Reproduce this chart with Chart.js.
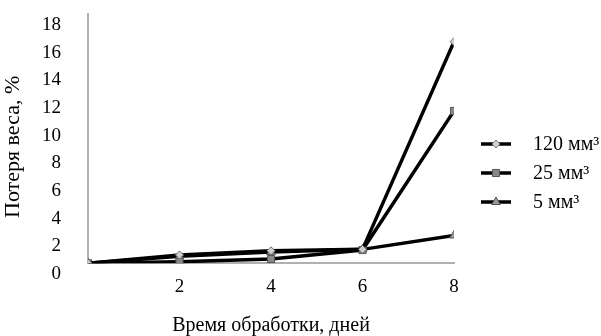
<!DOCTYPE html>
<html>
<head>
<meta charset="utf-8">
<script src="https://cdn.jsdelivr.net/npm/chart.js@4.4.1/dist/chart.umd.min.js"></script>
<style>
  html, body { margin: 0; padding: 0; background: #fff; }
  #wrap { width: 601px; height: 336px; }
</style>
</head>
<body>
<div id="wrap"><canvas id="weight-chart"></canvas></div>
<script>
// chart data - weight loss vs processing time
const days = [0, 2, 4, 6, 8];
const seriesNames = ['120 мм³', '25 мм³', '5 мм³'];
const loss120 = [0, 0.6, 0.9, 1.0, 16.0];
const loss25 = [0, 0.1, 0.3, 0.95, 11.0];
const loss5 = [0, 0.5, 0.8, 1.0, 2.0];
const yTicks = [0, 2, 4, 6, 8, 10, 12, 14, 16, 18];
const xTicks = [2, 4, 6, 8];

const serif = "'Liberation Serif', 'DejaVu Serif', serif";

function pts(vals) {
    return vals.map((v, i) => ({ x: days[i], y: v }));
}

// small legend drawn to the right, line + marker like the original
const sideLegend = {
    id: 'sideLegend',
    afterDraw(chart) {
        const ctx = chart.ctx;
        const x0 = 481, x1 = 511, tx = 533;
        ctx.save();
        chart.data.datasets.forEach((ds, i) => {
            const y = 144 + i * 29;
            ctx.strokeStyle = ds.borderColor;
            ctx.lineWidth = ds.borderWidth;
            ctx.beginPath();
            ctx.moveTo(x0, y);
            ctx.lineTo(x1, y);
            ctx.stroke();
            ctx.fillStyle = ds.pointBackgroundColor;
            ctx.strokeStyle = ds.pointBorderColor;
            ctx.lineWidth = 1;
            Chart.helpers.drawPoint(ctx, { pointStyle: ds.pointStyle, radius: ds.pointRadius, rotation: 0, borderWidth: 1 }, (x0 + x1) / 2, y);
            ctx.fillStyle = '#000';
            ctx.font = '20px ' + serif;
            ctx.textBaseline = 'middle';
            ctx.textAlign = 'left';
            ctx.fillText(ds.label, tx, y + 1);
        });
        ctx.restore();
    }
};

const ctx = document.getElementById('weight-chart');
new Chart(ctx, {
    type: 'line',
    data: {
        datasets: [
            {
                label: seriesNames[0],
                data: pts(loss120),
                borderColor: '#000',
                borderWidth: 3.5,
                pointStyle: 'rectRot',
                pointRadius: 4,
                pointBackgroundColor: '#cfcfcf',
                pointBorderColor: '#777',
                pointBorderWidth: 1
            },
            {
                label: seriesNames[1],
                data: pts(loss25),
                borderColor: '#000',
                borderWidth: 3.5,
                pointStyle: 'rect',
                pointRadius: 5,
                pointBackgroundColor: '#888',
                pointBorderColor: '#555',
                pointBorderWidth: 1
            },
            {
                label: seriesNames[2],
                data: pts(loss5),
                borderColor: '#000',
                borderWidth: 3.5,
                pointStyle: 'triangle',
                pointRadius: 5,
                pointBackgroundColor: '#999',
                pointBorderColor: '#555',
                pointBorderWidth: 1
            }
        ]
    },
    options: {
        responsive: true,
        maintainAspectRatio: false,
        animation: false,
        layout: { padding: { top: 14, right: 147, left: 0, bottom: 0 } },
        plugins: {
            legend: { display: false },
            tooltip: { enabled: false }
        },
        scales: {
            x: {
                type: 'linear',
                min: 0,
                max: 8,
                afterBuildTicks: (scale) => { scale.ticks = xTicks.map(v => ({ value: v })); },
                afterFit: (scale) => { scale.paddingLeft = 0; scale.paddingRight = 0; },
                grid: { display: false, drawTicks: false },
                border: { color: '#b0b0b0', width: 2 },
                ticks: { color: '#000', font: { family: serif, size: 19 }, padding: 12, maxRotation: 0 },
                title: {
                    display: true,
                    text: 'Время обработки, дней',
                    color: '#000',
                    font: { family: serif, size: 20, lineHeight: 1.0 },
                    padding: { top: 6, bottom: 0 }
                }
            },
            y: {
                min: 0,
                max: 18,
                afterBuildTicks: (scale) => { scale.ticks = yTicks.map(v => ({ value: v })); },
                afterFit: (scale) => {
                    scale.width = 88;
                    scale.paddingTop = 0;
                    scale.paddingBottom = 0;
                },
                grid: { display: false, drawTicks: false },
                border: { color: '#b0b0b0', width: 2 },
                ticks: { color: '#000', font: { family: serif, size: 19 }, padding: 27, labelOffset: 11, autoSkip: false },
                title: {
                    display: true,
                    text: 'Потеря веса, %\u00a0\u00a0\u00a0',
                    color: '#000',
                    font: { family: serif, size: 22 },
                    padding: { top: 0, bottom: 0 }
                }
            }
        }
    },
    plugins: [sideLegend]
});
</script>
</body>
</html>
